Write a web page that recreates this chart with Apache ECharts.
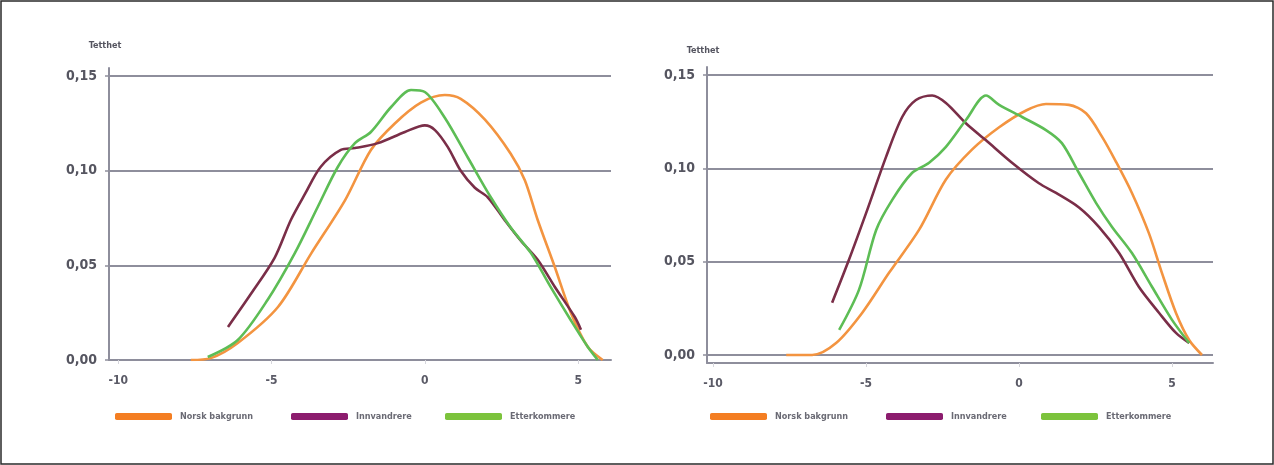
<!DOCTYPE html>
<html>
<head>
<meta charset="utf-8">
<script src="https://cdn.jsdelivr.net/npm/echarts@6/dist/echarts.min.js"></script>
<style>
  html, body { margin: 0; padding: 0; background: #fff; }
  #chart { width: 1274px; height: 465px; }
</style>
</head>
<body>
<div id="chart"></div>
<script>
// Series names (legend)
const seriesNames = ['Norsk bakgrunn', 'Innvandrere', 'Etterkommere'];
const yAxisName = 'Tetthet';
const xTickValues = [-10, -5, 0, 5];
const yTickValues = [0, 0.05, 0.10, 0.15];

// Left panel: density curves, [x, density]
const leftNorsk = [[-7.63,0],[-6.98,0.001],[-6.1,0.009],[-4.79,0.028],[-3.7,0.0565],[-2.6,0.0845],[-1.76,0.111],[-0.98,0.125],[-0.13,0.136],[0.65,0.140],[1.17,0.138],[1.96,0.127],[2.8,0.109],[3.26,0.095],[3.68,0.074],[4.24,0.049],[4.76,0.025],[5.31,0.007],[5.8,0]];
const leftInnvandrere = [[-6.42,0.0175],[-5.67,0.035],[-4.9,0.054],[-4.37,0.074],[-3.9,0.088],[-3.4,0.102],[-2.74,0.111],[-2.28,0.112],[-1.53,0.1146],[-0.65,0.1205],[0,0.124],[0.33,0.1215],[0.75,0.1125],[1.17,0.100],[1.63,0.091],[2.05,0.086],[2.6,0.074],[3.13,0.063],[3.68,0.053],[4.24,0.0386],[4.89,0.0227],[5.09,0.016]];
const leftEtterkommere = [[-7.08,0.0016],[-6.1,0.0106],[-5.12,0.032],[-4.24,0.0565],[-3.49,0.081],[-2.84,0.102],[-2.28,0.1146],[-1.76,0.1205],[-1.1,0.1337],[-0.45,0.1427],[0,0.1416],[0.65,0.128],[1.4,0.107],[2.15,0.086],[2.8,0.070],[3.46,0.0565],[4.1,0.0386],[4.76,0.021],[5.31,0.007],[5.64,0]];

// Right panel
const rightNorsk = [[-7.61,0],[-6.76,0],[-5.98,0.0064],[-5.13,0.0225],[-4.25,0.044],[-3.27,0.067],[-2.39,0.094],[-1.54,0.110],[-0.65,0.122],[0.23,0.131],[0.88,0.1345],[1.63,0.134],[2.19,0.1295],[2.71,0.117],[3.17,0.1035],[3.69,0.0868],[4.25,0.065],[4.67,0.044],[5.13,0.0225],[5.56,0.008],[5.98,0]];
const rightInnvandrere = [[-6.11,0.028],[-5.56,0.051],[-5.0,0.076],[-4.35,0.106],[-3.82,0.1275],[-3.37,0.1366],[-2.84,0.139],[-2.39,0.135],[-1.73,0.124],[-1.08,0.115],[-0.23,0.103],[0.65,0.092],[1.21,0.0868],[1.96,0.079],[2.61,0.0686],[3.27,0.0546],[3.92,0.0364],[4.58,0.0225],[5.13,0.0118],[5.56,0.0064]];
const rightEtterkommere = [[-5.88,0.0134],[-5.23,0.035],[-4.67,0.067],[-4.15,0.083],[-3.5,0.0975],[-2.94,0.103],[-2.39,0.1115],[-1.73,0.126],[-1.08,0.139],[-0.65,0.134],[0.1,0.1275],[0.88,0.1205],[1.4,0.1135],[1.96,0.0975],[2.52,0.0814],[3.04,0.0686],[3.69,0.0546],[4.35,0.0364],[5.0,0.0188],[5.56,0.0064]];

const lineColors = ['#f39440', '#7a2e48', '#5dbd55'];
const legendColors = ['#f47e22', '#8c1c6e', '#7cc33c'];
const font = '"Liberation Sans Narrow", "DejaVu Sans Condensed", "Liberation Sans", sans-serif';
const axisGray = '#8e8e9c';

function fmt(v) { return v.toFixed(2).replace('.', ','); }

function xAxis(gridIndex, min, max) {
  return {
    type: 'value', gridIndex, min, max,
    axisLine: { show: true, onZero: false, lineStyle: { color: axisGray, width: 2 } },
    splitLine: { show: false },
    axisTick: { show: true, length: 4, lineStyle: { color: '#d6d6dc', width: 1 }, customValues: xTickValues },
    axisLabel: { customValues: xTickValues, color: '#5a5a66', fontFamily: font, fontWeight: 'bold', fontSize: 12, margin: 15 }
  };
}
function yAxis(gridIndex, min, max, nameGap) {
  return {
    type: 'value', gridIndex, min, max,
    name: yAxisName, nameGap,
    nameTextStyle: { color: '#555560', fontFamily: font, fontWeight: 'bold', fontSize: 9, align: 'center', padding: [0, 0, 0, -8] },
    axisLine: { show: true, onZero: false, lineStyle: { color: axisGray, width: 2 } },
    axisTick: { show: true, inside: false, length: 4, lineStyle: { color: axisGray, width: 1.5 }, customValues: yTickValues },
    splitLine: { show: true, lineStyle: { color: axisGray, width: 2 } },
    axisLabel: { customValues: yTickValues, formatter: fmt, color: '#555560', fontFamily: font, fontWeight: 'bold', fontSize: 14, margin: 12 }
  };
}
function line(name, data, i, xi) {
  return {
    type: 'line', name, data, xAxisIndex: xi, yAxisIndex: xi,
    smooth: 0.3, showSymbol: false, symbol: 'none',
    lineStyle: { color: lineColors[i], width: 2.6 },
    itemStyle: { color: legendColors[i] },
    z: 3
  };
}
function legend(name, i, left, top) {
  return {
    data: [{ name, itemStyle: { color: legendColors[i] }, lineStyle: { color: legendColors[i], width: 0 } }],
    left, top, icon: 'roundRect', itemWidth: 57, itemHeight: 7, itemGap: 0,
    textStyle: { color: '#6a6a74', fontFamily: font, fontWeight: 'bold', fontSize: 9, padding: [0, 0, 0, 3] },
    selectedMode: false
  };
}

const chart = echarts.init(document.getElementById('chart'), null, { renderer: 'canvas' });
chart.setOption({
  animation: false,
  backgroundColor: '#ffffff',
  grid: [
    { left: 109, top: 68, width: 502, height: 292 },
    { left: 707, top: 67, width: 506, height: 296 }
  ],
  xAxis: [xAxis(0, -10.3, 6.07), xAxis(1, -10.2, 6.34)],
  yAxis: [yAxis(0, 0, 0.1543, 18), yAxis(1, -0.0043, 0.1543, 12)],
  legend: [
    legend(seriesNames[0], 0, 110, 407),
    legend(seriesNames[1], 1, 286, 407),
    legend(seriesNames[2], 2, 440, 407),
    legend(seriesNames[0], 0, 705, 407),
    legend(seriesNames[1], 1, 881, 407),
    legend(seriesNames[2], 2, 1036, 407)
  ],
  series: [
    line(seriesNames[0], leftNorsk, 0, 0),
    line(seriesNames[1], leftInnvandrere, 1, 0),
    line(seriesNames[2], leftEtterkommere, 2, 0),
    line(seriesNames[0], rightNorsk, 0, 1),
    line(seriesNames[1], rightInnvandrere, 1, 1),
    line(seriesNames[2], rightEtterkommere, 2, 1)
  ],
  graphic: [
    { type: 'rect', shape: { x: 1, y: 1, width: 1272, height: 463 }, style: { fill: 'none', stroke: '#2a2a2a', lineWidth: 1.5 }, silent: true }
  ]
});
</script>
</body>
</html>
